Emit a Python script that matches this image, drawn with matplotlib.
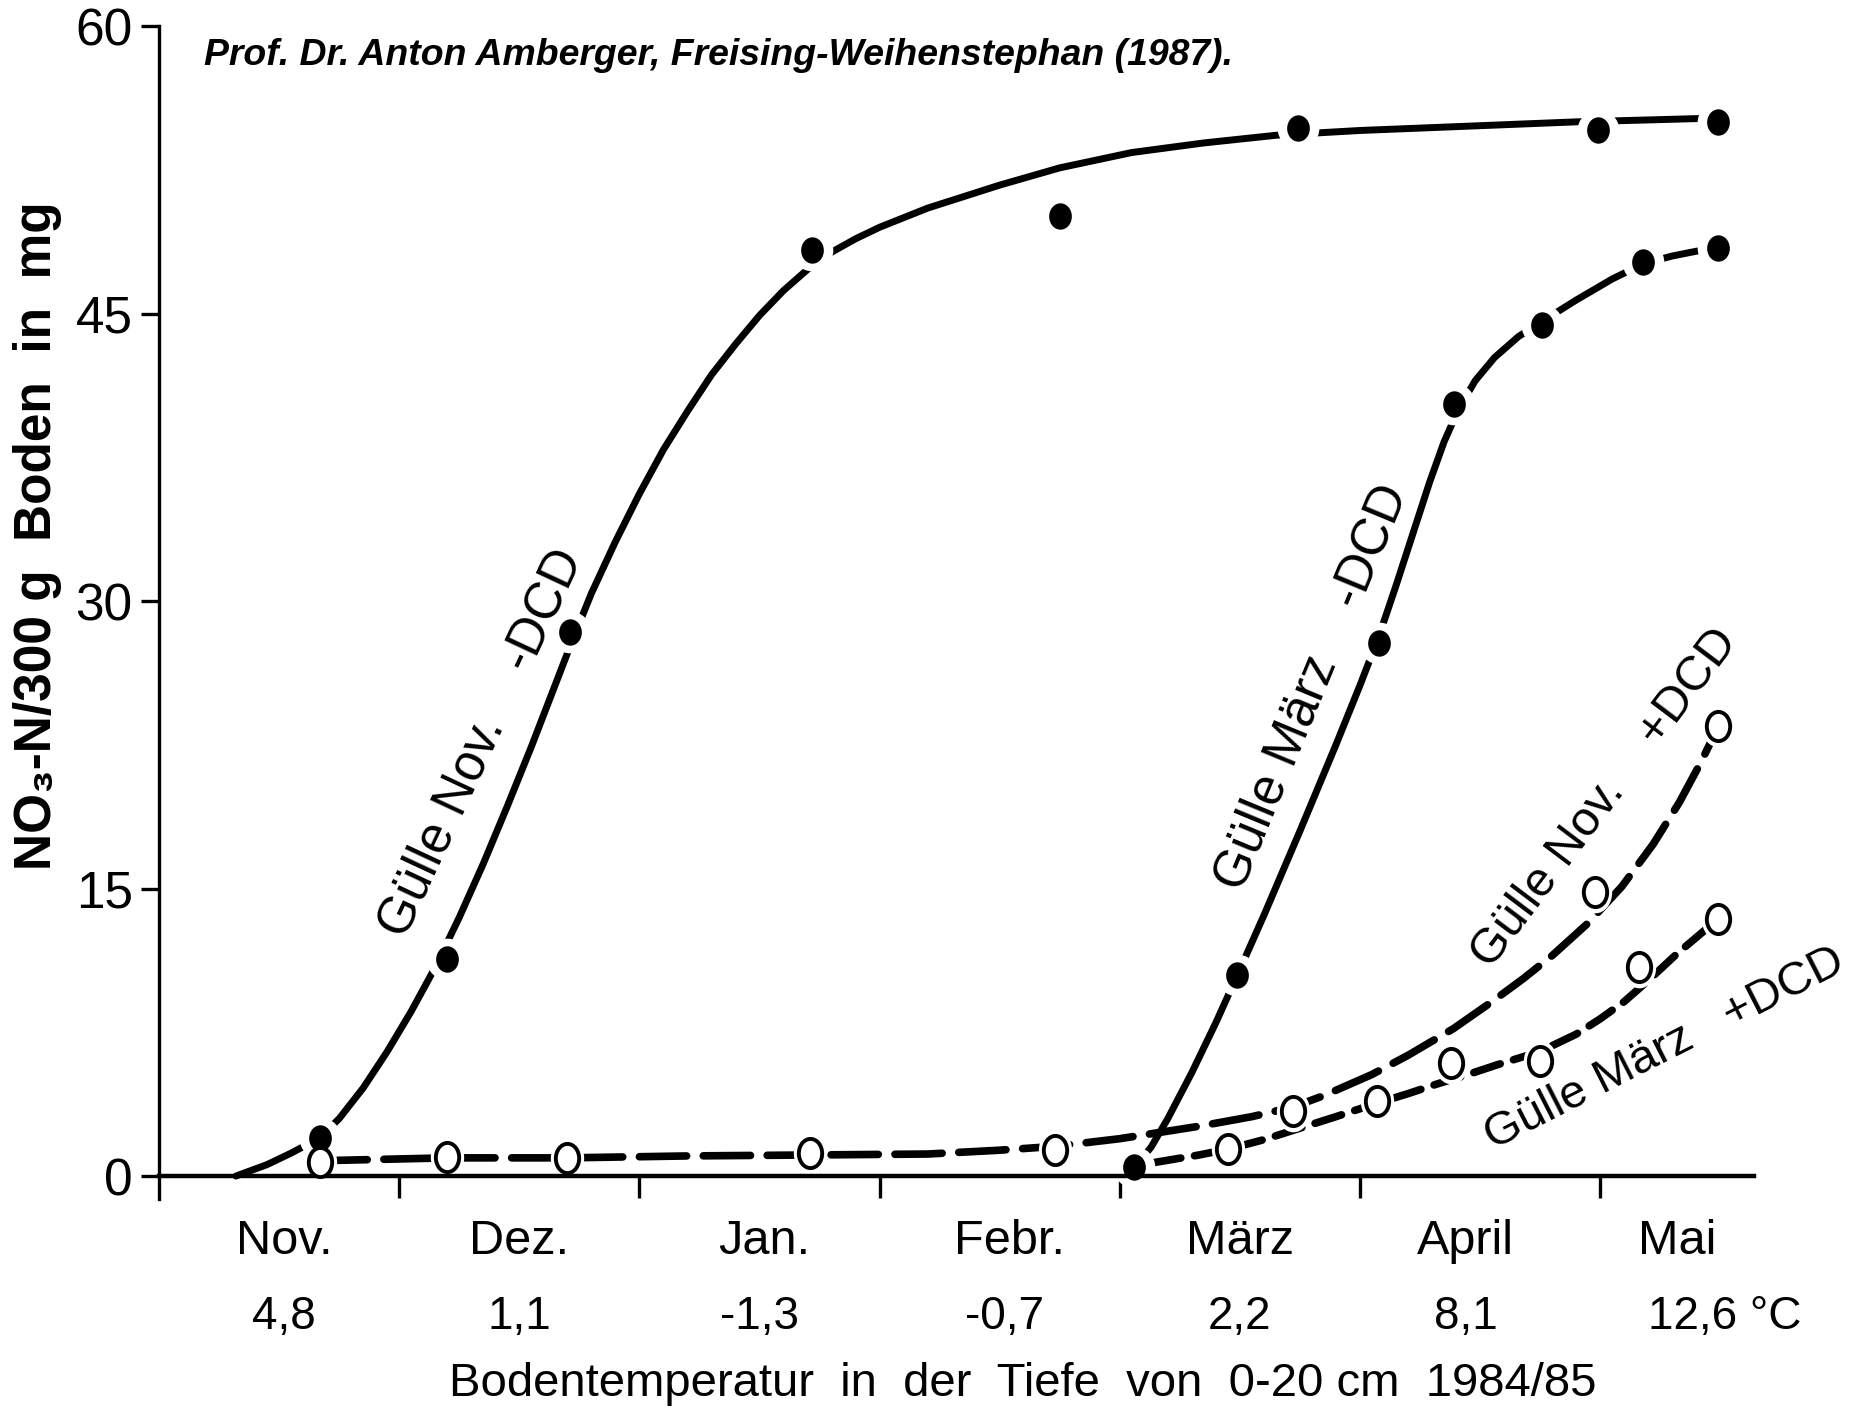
import matplotlib
matplotlib.use("Agg")
import matplotlib.pyplot as plt
from matplotlib import transforms, font_manager
from matplotlib.path import Path
from matplotlib.transforms import Affine2D

plt.rcParams['lines.scale_dashes'] = False

# ---------------- data (x = months since 1 Nov 1984) ----------------
months = ["Nov.", "Dez.", "Jan.", "Febr.", "März", "April", "Mai"]
month_pos = [0.52, 1.50, 2.52, 3.54, 4.50, 5.44, 6.32]
temps = ["4,8", "1,1", "-1,3", "-0,7", "2,2", "8,1", "12,6 °C"]
temp_pos = [0.52, 1.50, 2.50, 3.52, 4.50, 5.44, 6.20]
month_ticks = [1, 2, 3, 4, 5, 6]
y_ticks = [0, 15, 30, 45, 60]

# Gülle Nov. -DCD (filled dots)
nov_minus_x = [0.67, 1.20, 1.71, 2.72, 3.75, 4.74, 5.99, 6.49]
nov_minus_y = [2.0, 11.3, 28.4, 48.3, 50.1, 54.7, 54.6, 55.0]
nov_minus_curve_x = [0.32, 0.45, 0.55, 0.67, 0.75, 0.85, 0.95, 1.05, 1.15, 1.25,
                     1.35, 1.45, 1.55, 1.63, 1.71, 1.80, 1.90, 2.00, 2.10, 2.20,
                     2.30, 2.40, 2.50, 2.60, 2.70, 2.80, 2.90, 3.00, 3.20, 3.50,
                     3.75, 4.05, 4.35, 4.65, 5.00, 5.40, 5.90, 6.20, 6.49]
nov_minus_curve_y = [0.0, 0.6, 1.2, 2.0, 3.0, 4.6, 6.5, 8.6, 10.9, 13.5,
                     16.3, 19.3, 22.4, 25.0, 27.6, 30.4, 33.1, 35.6, 37.9, 39.9,
                     41.8, 43.4, 44.9, 46.2, 47.3, 48.2, 48.9, 49.5, 50.5, 51.7,
                     52.6, 53.4, 53.9, 54.3, 54.55, 54.75, 55.0, 55.1, 55.2]

# Gülle März -DCD (filled dots)
mar_minus_x = [4.06, 4.49, 5.08, 5.39, 5.76, 6.18, 6.49]
mar_minus_y = [0.45, 10.5, 27.8, 40.3, 44.4, 47.7, 48.4]
mar_minus_curve_x = [4.06, 4.13, 4.20, 4.30, 4.40, 4.49, 4.60, 4.75, 4.90, 5.00,
                     5.08, 5.15, 5.22, 5.29, 5.35, 5.41, 5.48, 5.56, 5.66, 5.76,
                     5.90, 6.05, 6.18, 6.30, 6.40, 6.49]
mar_minus_curve_y = [0.45, 1.5, 3.0, 5.4, 8.0, 10.5, 13.6, 18.0, 22.5, 25.6,
                     28.2, 30.8, 33.5, 36.2, 38.3, 40.0, 41.5, 42.7, 43.8, 44.6,
                     45.7, 46.8, 47.6, 48.0, 48.25, 48.4]

# Gülle Nov. +DCD (open circles)
nov_plus_x = [0.67, 1.20, 1.70, 2.71, 3.73, 4.72, 5.98, 6.49]
nov_plus_y = [0.74, 1.0, 0.95, 1.2, 1.35, 3.4, 14.8, 23.5]
nov_plus_curve_x = [0.67, 1.20, 1.70, 2.20, 2.71, 3.20, 3.50, 3.73, 4.00, 4.33,
                    4.55, 4.72, 4.85, 5.05, 5.20, 5.39, 5.55, 5.68, 5.80, 5.95,
                    6.09, 6.22, 6.33, 6.42, 6.49]
nov_plus_curve_y = [0.8, 0.95, 0.95, 1.05, 1.1, 1.15, 1.35, 1.55, 1.95, 2.6,
                    3.1, 3.6, 4.2, 5.3, 6.3, 7.7, 9.1, 10.3, 11.5, 13.2,
                    15.1, 17.3, 19.5, 21.6, 23.4]

# Gülle März +DCD (open circles)
mar_plus_x = [4.45, 5.07, 5.38, 5.75, 6.16, 6.49]
mar_plus_y = [1.4, 3.9, 5.9, 6.0, 10.9, 13.4]
mar_plus_curve_x = [4.14, 4.33, 4.45, 4.60, 4.75, 4.90, 5.07, 5.20, 5.32, 5.45,
                    5.57, 5.75, 5.90, 6.00, 6.10, 6.20, 6.32, 6.49]
mar_plus_curve_y = [0.7, 1.1, 1.4, 1.9, 2.5, 3.1, 3.8, 4.3, 4.8, 5.3,
                    5.8, 6.5, 7.4, 8.2, 9.1, 10.2, 11.6, 13.4]

title = "Prof. Dr. Anton Amberger, Freising-Weihenstephan (1987)."
ylabel = "NO\u2083-N/300 g  Boden  in  mg"
xlabel = "Bodentemperatur  in  der  Tiefe  von  0-20 cm  1984/85"

# ---------------- fonts ----------------
avail = {f.name for f in font_manager.fontManager.ttflist}
SANS = ['Liberation Sans', 'DejaVu Sans'] if 'Liberation Sans' in avail else ['DejaVu Sans']

# ---------------- figure ----------------
fig = plt.figure(figsize=(18.52, 14.14), dpi=100)
fig.patch.set_facecolor('white')
ax = fig.add_axes([0.0859, 0.1520, 0.947 - 0.0859, 0.9816 - 0.1520])
ax.set_xlim(0, 6.64)
ax.set_ylim(-1.2, 60)

for s in ['top', 'right']:
    ax.spines[s].set_visible(False)
ax.spines['bottom'].set_position(('data', 0))
ax.spines['bottom'].set_linewidth(3.2)
ax.spines['left'].set_linewidth(2.4)

ax.set_xticks(month_ticks)
ax.set_xticklabels([])
ax.tick_params(axis='x', direction='out', length=16, width=2.4)
ax.set_yticks(y_ticks)
ax.set_yticklabels([str(v) for v in y_ticks], fontfamily=SANS, fontsize=37)
ax.tick_params(axis='y', direction='out', length=13, width=2.4, pad=6)

# curves
ax.plot(nov_minus_curve_x, nov_minus_curve_y, color='black', lw=5,
        solid_capstyle='round', solid_joinstyle='round', zorder=2)
ax.plot(mar_minus_curve_x, mar_minus_curve_y, color='black', lw=5,
        solid_capstyle='round', solid_joinstyle='round', zorder=2)
ax.plot(nov_plus_curve_x, nov_plus_curve_y, color='black', lw=5.5,
        dashes=(34, 12), dash_capstyle='round', zorder=2)
ax.plot(mar_plus_curve_x, mar_plus_curve_y, color='black', lw=5.5,
        dashes=(20, 10), dash_capstyle='round', zorder=2)

oval_f = Path.unit_circle().transformed(Affine2D().scale(0.86, 1.0))
oval_o = Path.unit_circle().transformed(Affine2D().scale(0.8, 1.0))

# white halos (gaps around markers)
for xs, ys in [(nov_minus_x, nov_minus_y), (mar_minus_x, mar_minus_y)]:
    ax.plot(xs, ys, ls='none', marker='o', ms=30, mfc='white', mec='none', zorder=2.2)
for xs, ys in [(nov_plus_x, nov_plus_y), (mar_plus_x, mar_plus_y)]:
    ax.plot(xs, ys, ls='none', marker=oval_o, ms=30, mfc='white', mec='none', zorder=2.2)

# markers
for xs, ys in [(nov_minus_x, nov_minus_y), (mar_minus_x, mar_minus_y)]:
    ax.plot(xs, ys, ls='none', marker=oval_f, ms=19, mfc='black', mec='black', mew=0,
            zorder=3)
for xs, ys in [(nov_plus_x, nov_plus_y), (mar_plus_x, mar_plus_y)]:
    ax.plot(xs, ys, ls='none', marker=oval_o, ms=21, mfc='white', mec='black', mew=2.8,
            zorder=3)

# curve labels
lab_kw = dict(fontfamily=SANS, ha='center', va='center',
              rotation_mode='anchor', zorder=4)
ax.text(1.34, 22.6, "Gülle Nov.    -DCD", rotation=65, fontsize=37, **lab_kw)
ax.text(4.80, 25.5, "Gülle März    -DCD", rotation=67.5, fontsize=37, **lab_kw)
ax.text(6.02, 19.7, "Gülle Nov.    +DCD", rotation=53, fontsize=35, **lab_kw)
ax.text(6.27, 6.6, "Gülle März   +DCD", rotation=27, fontsize=34, **lab_kw)

# month and temperature labels
tr = transforms.blended_transform_factory(ax.transData, fig.transFigure)
for m, xp in zip(months, month_pos):
    ax.text(xp, 0.1132, m, transform=tr, ha='center', va='baseline',
            fontfamily=SANS, fontsize=35)
for t, xp in zip(temps, temp_pos):
    ax.text(xp, 0.0601, t, transform=tr, ha='left' if t.endswith('C') else 'center',
            va='baseline', fontfamily=SANS, fontsize=33)

fig.text(0.5524, 0.0125, xlabel, ha='center', va='baseline',
         fontfamily=SANS, fontsize=34)
fig.text(0.020, 0.621, ylabel, ha='center', va='center', rotation=90,
         fontfamily=SANS, fontsize=37, fontweight='bold')
fig.text(0.110, 0.954, title, ha='left', va='baseline', fontfamily=SANS,
         fontsize=26.9, fontweight='bold', fontstyle='italic')

fig.savefig("out.png", dpi=100, facecolor='white')
